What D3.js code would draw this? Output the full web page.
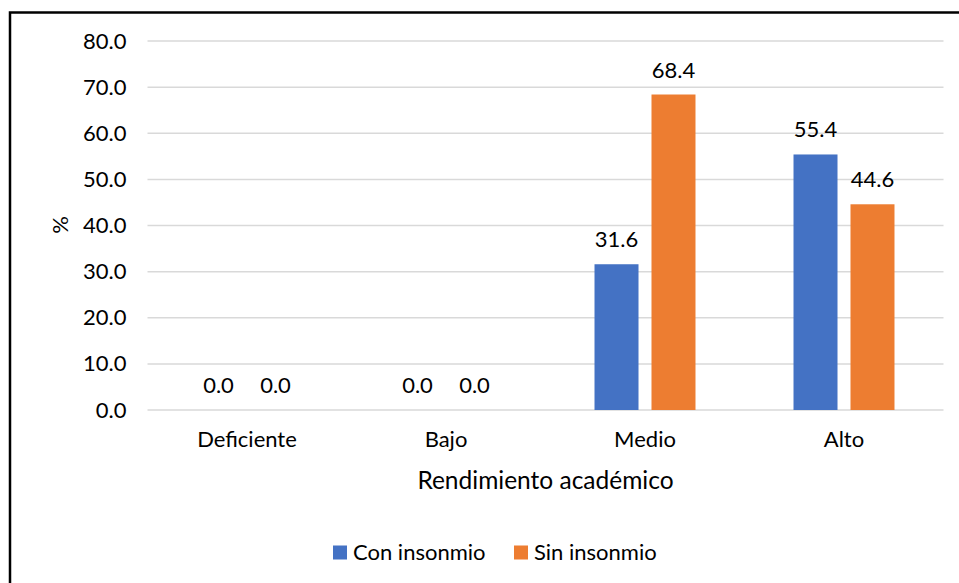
<!DOCTYPE html>
<html>
<head>
<meta charset="utf-8">
<script src="https://cdn.jsdelivr.net/npm/d3@7"></script>
<style>
  body { margin: 0; background: #fff; }
  svg { display: block; font-family: Lato, "Open Sans", sans-serif; }
  .tick text { fill: #000; }
</style>
</head>
<body>
<svg id="chart" width="959" height="583"></svg>
<script>
const categories = ['Deficiente', 'Bajo', 'Medio', 'Alto'];
const series = ['Con insonmio', 'Sin insonmio'];
const conInsonmio = [0.0, 0.0, 31.6, 55.4];
const sinInsonmio = [0.0, 0.0, 68.4, 44.6];
const yTicks = [0, 10, 20, 30, 40, 50, 60, 70, 80];

const COLORS = {
  'Con insonmio': '#4472C4',
  'Sin insonmio': '#ED7D31'
};

const PADDING = {
  left: 147.5,
  right: 943.5,
  top: 41,
  bottom: 410
};

const svg = d3.select('#chart');

// outer frame of the chart object (cropped on right/bottom)
svg.append('rect')
  .attr('x', 10)
  .attr('y', 12.5)
  .attr('width', 1000)
  .attr('height', 1000)
  .attr('fill', '#fff')
  .attr('stroke', '#000')
  .attr('stroke-width', 2.5);

const scaleX = d3.scaleBand()
  .domain(categories)
  .range([PADDING.left, PADDING.right]);

const scaleSeries = d3.scaleBand()
  .domain(series)
  .range([0, scaleX.bandwidth()])
  .paddingInner(0.228)
  .paddingOuter(0.86);

const scaleY = d3.scaleLinear()
  .domain([0, 80])
  .range([PADDING.bottom, PADDING.top]);

// gridlines
svg.append('g')
  .attr('class', 'grid')
  .selectAll('line')
  .data(yTicks)
  .enter()
  .append('line')
  .attr('x1', PADDING.left)
  .attr('x2', PADDING.right)
  .attr('y1', d => scaleY(d))
  .attr('y2', d => scaleY(d))
  .attr('stroke', '#d9d9d9')
  .attr('stroke-width', 1.5);

// y axis
const axisY = d3.axisLeft(scaleY)
  .tickValues(yTicks)
  .tickSize(0)
  .tickPadding(21)
  .tickFormat(d3.format('.1f'));

svg.append('g')
  .attr('class', 'axis axis-y')
  .attr('transform', 'translate(' + PADDING.left + ',0)')
  .call(axisY)
  .call(g => g.select('.domain').remove())
  .selectAll('text')
  .attr('font-size', 22)
  .attr('font-family', 'Lato');

// x axis
const axisX = d3.axisBottom(scaleX)
  .tickSize(0)
  .tickPadding(0);

svg.append('g')
  .attr('class', 'axis axis-x')
  .attr('transform', 'translate(0,' + PADDING.bottom + ')')
  .call(axisX)
  .call(g => g.select('.domain').remove())
  .selectAll('text')
  .attr('dy', null)
  .attr('y', 37)
  .attr('font-size', 22)
  .attr('font-family', 'Lato');

// bars
const rows = categories.map((c, i) => ({
  category: c,
  values: [
    { key: series[0], value: conInsonmio[i] },
    { key: series[1], value: sinInsonmio[i] }
  ]
}));

const groups = svg.append('g')
  .attr('class', 'bars')
  .selectAll('g')
  .data(rows)
  .enter()
  .append('g')
  .attr('transform', d => 'translate(' + scaleX(d.category) + ',0)');

groups.selectAll('rect')
  .data(d => d.values)
  .enter()
  .append('rect')
  .attr('x', d => scaleSeries(d.key))
  .attr('width', scaleSeries.bandwidth())
  .attr('y', d => scaleY(d.value))
  .attr('height', d => scaleY(0) - scaleY(d.value))
  .attr('fill', d => COLORS[d.key]);

groups.selectAll('text')
  .data(d => d.values)
  .enter()
  .append('text')
  .attr('x', d => scaleSeries(d.key) + scaleSeries.bandwidth() / 2)
  .attr('y', d => scaleY(d.value) - 17)
  .attr('text-anchor', 'middle')
  .attr('font-size', 22)
  .attr('fill', '#000')
  .text(d => d.value.toFixed(1));

// axis titles
svg.append('text')
  .attr('x', (PADDING.left + PADDING.right) / 2)
  .attr('y', 489)
  .attr('text-anchor', 'middle')
  .attr('font-size', 24.5)
  .attr('fill', '#000')
  .text('Rendimiento académico');

svg.append('text')
  .attr('transform', 'translate(68,225) rotate(-90)')
  .attr('text-anchor', 'middle')
  .attr('font-size', 22)
  .attr('fill', '#000')
  .text('%');

// legend
const legendItems = [
  { key: series[0], x: 333 },
  { key: series[1], x: 514 }
];

const legend = svg.append('g')
  .attr('class', 'legend')
  .selectAll('g')
  .data(legendItems)
  .enter()
  .append('g')
  .attr('transform', d => 'translate(' + d.x + ',545.5)');

legend.append('rect')
  .attr('width', 14)
  .attr('height', 14)
  .attr('fill', d => COLORS[d.key]);

legend.append('text')
  .attr('x', 20)
  .attr('y', 14)
  .attr('font-size', 22)
  .attr('fill', '#000')
  .text(d => d.key);
</script>
</body>
</html>
